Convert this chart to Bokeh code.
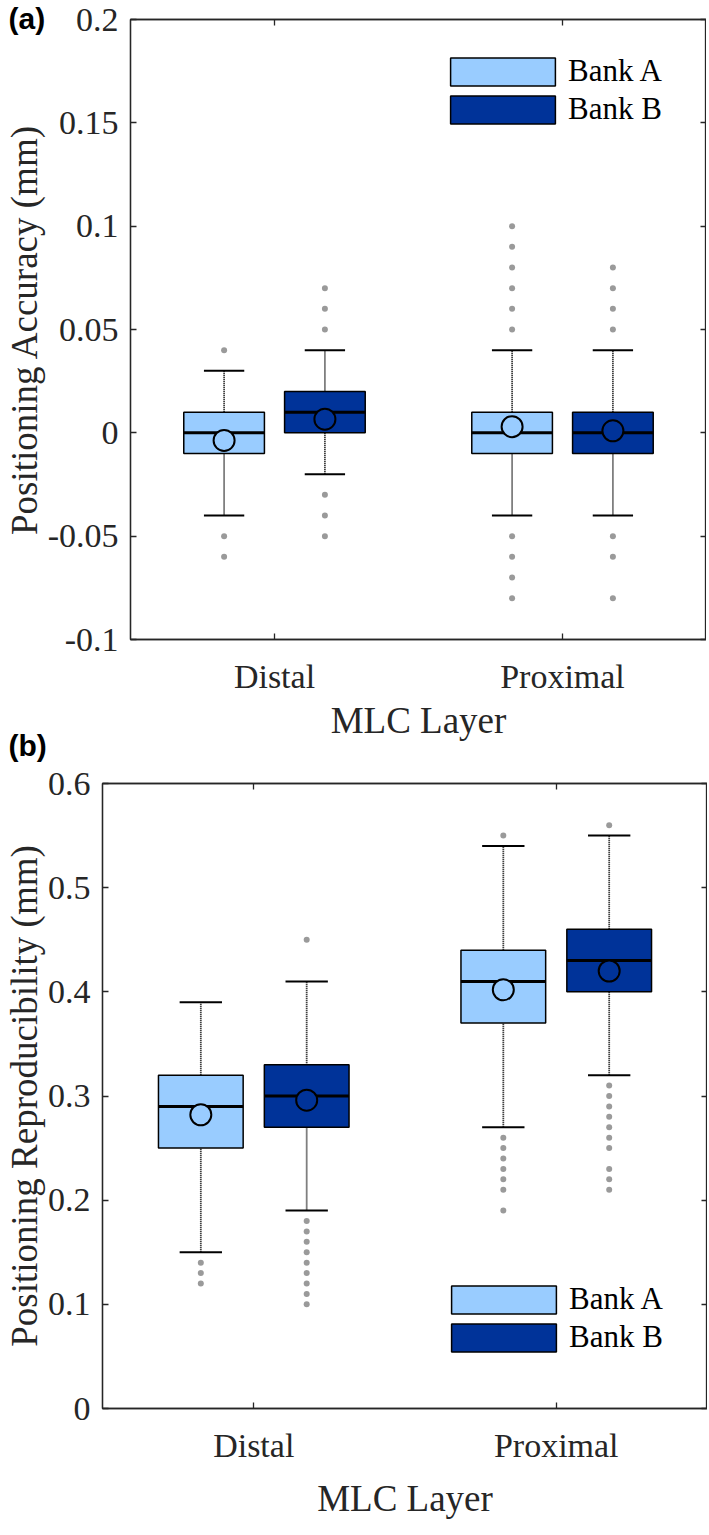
from bokeh.plotting import figure
from bokeh.models import (ColumnDataSource, FactorRange, FixedTicker, CustomJSTickFormatter,
                          LinearAxis, Legend, LegendItem, Title, Range1d)
from bokeh.transform import dodge
from bokeh.layouts import column
from bokeh.embed import file_html
from bokeh.resources import INLINE

# ---------------- data ----------------
layers = ["Distal", "Proximal"]
banks = ["Bank A", "Bank B"]
bank_colors = ["#99CCFF", "#003399"]

# (a) Positioning Accuracy (mm)
acc_ticks = [-0.1, -0.05, 0, 0.05, 0.1, 0.15, 0.2]
acc_a_low = [-0.04, -0.04]
acc_a_q1 = [-0.01, -0.01]
acc_a_med = [0.0, 0.0]
acc_a_q3 = [0.01, 0.01]
acc_a_high = [0.03, 0.04]
acc_a_mean = [-0.0037, 0.003]
acc_b_low = [-0.02, -0.04]
acc_b_q1 = [0.0, -0.01]
acc_b_med = [0.01, 0.0]
acc_b_q3 = [0.02, 0.01]
acc_b_high = [0.04, 0.04]
acc_b_mean = [0.0066, 0.001]
acc_a_out_distal = [0.04, -0.05, -0.06]
acc_a_out_proximal = [0.05, 0.06, 0.07, 0.08, 0.09, 0.10, -0.05, -0.06, -0.07, -0.08]
acc_b_out_distal = [0.05, 0.06, 0.07, -0.03, -0.04, -0.05]
acc_b_out_proximal = [0.05, 0.06, 0.07, 0.08, -0.05, -0.06, -0.08]

# (b) Positioning Reproducibility (mm)
rep_ticks = [0, 0.1, 0.2, 0.3, 0.4, 0.5, 0.6]
rep_a_low = [0.15, 0.27]
rep_a_q1 = [0.25, 0.37]
rep_a_med = [0.29, 0.41]
rep_a_q3 = [0.32, 0.44]
rep_a_high = [0.39, 0.54]
rep_a_mean = [0.282, 0.402]
rep_b_low = [0.19, 0.32]
rep_b_q1 = [0.27, 0.40]
rep_b_med = [0.30, 0.43]
rep_b_q3 = [0.33, 0.46]
rep_b_high = [0.41, 0.55]
rep_b_mean = [0.296, 0.42]
rep_a_out_distal = [0.14, 0.13, 0.12]
rep_a_out_proximal = [0.55, 0.26, 0.25, 0.24, 0.23, 0.22, 0.21, 0.19]
rep_b_out_distal = [0.45, 0.18, 0.17, 0.16, 0.15, 0.14, 0.13, 0.12, 0.11, 0.10]
rep_b_out_proximal = [0.56, 0.31, 0.30, 0.29, 0.28, 0.27, 0.26, 0.25, 0.23, 0.22, 0.21]

# ---------------- style ----------------
AX = "#262626"
SERIF = "Liberation Serif"
OFF = 0.175
BOX_W = 0.28
CAP_W = 0.14

FMT = CustomJSTickFormatter(code="""
let s = tick.toFixed(2);
s = s.replace(/0+$/, '').replace(/\\.$/, '');
if (s === '-0') s = '0';
return s;
""")


def make_panel(ylabel, yrange, ticks, stats, outliers, left_border, frame_w, frame_h,
               top_border, bottom_border, legend_xy, xlabel_standoff):
    p = figure(x_range=FactorRange(*layers), y_range=Range1d(*yrange),
               frame_width=frame_w, frame_height=frame_h,
               min_border_left=left_border, min_border_right=0,
               min_border_top=top_border, min_border_bottom=bottom_border,
               output_backend="svg", toolbar_location=None, tools="")
    p.frame_align = False
    p.xgrid.visible = False
    p.ygrid.visible = False
    p.background_fill_color = "white"
    p.border_fill_color = "white"
    p.outline_line_color = AX
    p.outline_line_width = 1.3

    renderers = []
    for i in range(2):
        off = [-OFF, OFF][i]
        low, q1, med, q3, high, mean = stats[i]
        src = ColumnDataSource(dict(layer=layers, low=low, q1=q1, med=med,
                                    q3=q3, high=high, mean=mean))
        out_d, out_p = outliers[i]
        osrc = ColumnDataSource(dict(layer=["Distal"] * len(out_d) + ["Proximal"] * len(out_p),
                                     val=list(out_d) + list(out_p)))
        xc = dodge("layer", off, range=p.x_range)
        xl = dodge("layer", off - CAP_W / 2, range=p.x_range)
        xr = dodge("layer", off + CAP_W / 2, range=p.x_range)
        xbl = dodge("layer", off - BOX_W / 2, range=p.x_range)
        xbr = dodge("layer", off + BOX_W / 2, range=p.x_range)

        p.scatter(x=xc, y="val", source=osrc, marker="circle", size=6,
                  fill_color="#9a9a9a", line_color=None)
        p.segment(x0=xc, y0="q3", x1=xc, y1="high", source=src,
                  line_color="black", line_width=1.8, line_dash="1 1")
        p.segment(x0=xc, y0="low", x1=xc, y1="q1", source=src,
                  line_color="black", line_width=1.8, line_dash="1 1")
        p.segment(x0=xl, y0="high", x1=xr, y1="high", source=src,
                  line_color="black", line_width=2)
        p.segment(x0=xl, y0="low", x1=xr, y1="low", source=src,
                  line_color="black", line_width=2)
        r = p.vbar(x=xc, width=BOX_W, bottom="q1", top="q3", source=src,
                   fill_color=bank_colors[i], line_color="black", line_width=1.5)
        renderers.append(r)
        p.segment(x0=xbl, y0="med", x1=xbr, y1="med", source=src,
                  line_color="black", line_width=3)
        p.scatter(x=xc, y="mean", source=src, marker="circle", size=21,
                  fill_color=bank_colors[i], line_color="black", line_width=2)

    # axes
    yax = p.yaxis[0]
    yax.ticker = FixedTicker(ticks=ticks)
    yax.formatter = FMT
    yax.axis_label = ylabel
    xax = p.xaxis[0]
    xax.axis_label = "MLC Layer"
    for ax in (xax, yax):
        ax.major_tick_in = 6
        ax.major_tick_out = 0
        ax.minor_tick_line_color = None
        ax.axis_line_color = AX
        ax.axis_line_width = 1.3
        ax.major_tick_line_color = AX
        ax.major_tick_line_width = 1.3
        ax.major_label_text_font = SERIF
        ax.major_label_text_font_size = "34px"
        ax.major_label_text_color = AX
        ax.axis_label_text_font = SERIF
        ax.axis_label_text_font_size = "37px"
        ax.axis_label_text_font_style = "normal"
        ax.axis_label_text_color = AX
    yax.major_label_standoff = 12
    yax.axis_label_standoff = 0
    xax.major_label_standoff = 18
    xax.axis_label_standoff = xlabel_standoff

    # mirrored tick marks (no labels) on the right and top edges
    rax = LinearAxis(ticker=FixedTicker(ticks=[], minor_ticks=ticks),
                     minor_tick_in=6, minor_tick_out=0, minor_tick_line_color=AX,
                     minor_tick_line_width=1.3, major_tick_line_color=None,
                     major_label_standoff=0, axis_line_color=AX, axis_line_width=1.3)
    p.add_layout(rax, "right")
    cat_centers = [i + 0.5 for i in range(len(layers))]
    tax = LinearAxis(ticker=FixedTicker(ticks=[], minor_ticks=cat_centers),
                     minor_tick_in=6, minor_tick_out=0, minor_tick_line_color=AX,
                     minor_tick_line_width=1.3, major_tick_line_color=None,
                     major_label_standoff=0, axis_line_color=AX, axis_line_width=1.3)
    p.add_layout(tax, "above")

    legend = Legend(items=[LegendItem(label=banks[0], renderers=[renderers[0]]),
                           LegendItem(label=banks[1], renderers=[renderers[1]])],
                    location=legend_xy, glyph_width=131, glyph_height=35,
                    label_standoff=0, spacing=2, padding=0, margin=0,
                    border_line_color=None, background_fill_alpha=0,
                    label_text_font=SERIF, label_text_font_size="31px",
                    label_text_color="black")
    p.add_layout(legend)
    return p


def panel_tag(text, offset):
    # negative standoff keeps the tag from taking extra room in the border
    return Title(text=text, align="left", vertical_align="middle", offset=offset,
                 standoff=-32, text_font="Liberation Sans", text_font_style="bold",
                 text_font_size="30px", text_color="black")


p1 = make_panel("Positioning Accuracy (mm)", (-0.1, 0.2), acc_ticks,
                [(acc_a_low, acc_a_q1, acc_a_med, acc_a_q3, acc_a_high, acc_a_mean),
                 (acc_b_low, acc_b_q1, acc_b_med, acc_b_q3, acc_b_high, acc_b_mean)],
                [(acc_a_out_distal, acc_a_out_proximal),
                 (acc_b_out_distal, acc_b_out_proximal)],
                left_border=124, frame_w=576, frame_h=620, top_border=19,
                bottom_border=125, legend_xy=(307, 512), xlabel_standoff=2)
p1.add_layout(panel_tag("(a)", -122), "above")
p1.add_layout(panel_tag("(b)", -122), "below")

p2 = make_panel("Positioning Reproducibility (mm)", (0, 0.6), rep_ticks,
                [(rep_a_low, rep_a_q1, rep_a_med, rep_a_q3, rep_a_high, rep_a_mean),
                 (rep_b_low, rep_b_q1, rep_b_med, rep_b_q3, rep_b_high, rep_b_mean)],
                [(rep_a_out_distal, rep_a_out_proximal),
                 (rep_b_out_distal, rep_b_out_proximal)],
                left_border=95, frame_w=605, frame_h=625, top_border=19,
                bottom_border=0, legend_xy=(336, 53), xlabel_standoff=11)

layout = column(p1, p2)
open("out.html", "w").write(file_html(layout, INLINE))
